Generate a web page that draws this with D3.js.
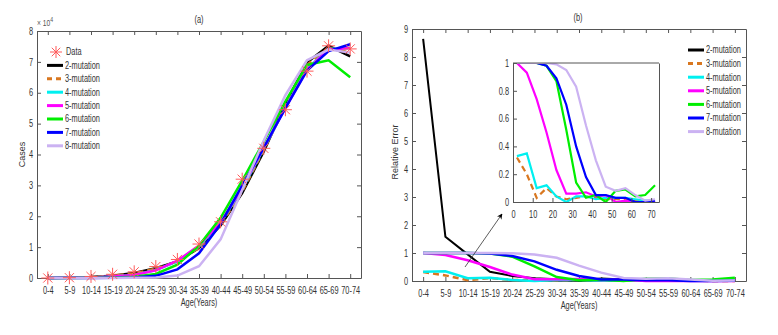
<!DOCTYPE html>
<html>
<head>
<meta charset="utf-8">
<script src="https://cdn.jsdelivr.net/npm/d3@7"></script>
<style>
  body { margin: 0; background: #fff; }
  svg { font-family: "Liberation Sans", Arial, sans-serif; }
  .tick text { font-size: 10px; fill: #333; }
  .lbl { font-size: 10px; fill: #333; }
</style>
</head>
<body>
<svg id="chart" width="778" height="335"></svg>
<script>
// age groups on the x axis
const ages = ['0-4','5-9','10-14','15-19','20-24','25-29','30-34','35-39','40-44','45-49','50-54','55-59','60-64','65-69','70-74'];
// age midpoints used by the inset
const ageMid = [2,7,12,17,22,27,32,37,42,47,52,57,62,67,72];

const seriesNames = ['2-mutation','3-mutation','4-mutation','5-mutation','6-mutation','7-mutation','8-mutation'];
const seriesColors = ['#000000','#d9771f','#00f0f0','#ff00ff','#00ee00','#0000ff','#cbb2f2'];

// (a) cases, x 10^4
const dataCases = [0, 0.01, 0.05, 0.12, 0.2, 0.37, 0.6, 1.1, 1.82, 3.2, 4.2, 5.45, 6.7, 7.52, 7.42];
const casesFit = [
  [0, 0.01, 0.03, 0.07, 0.16, 0.32, 0.54, 0.97, 1.7, 2.75, 4.1, 5.65, 6.98, 7.52, 7.18],
  [0, 0.01, 0.03, 0.07, 0.15, 0.3, 0.53, 0.98, 1.72, 2.8, 4.15, 5.6, 6.9, 7.45, 7.3],
  [0, 0.01, 0.02, 0.05, 0.1, 0.26, 0.54, 1.02, 1.78, 2.88, 4.2, 5.52, 6.78, 7.42, 7.45],
  [0, 0.01, 0.02, 0.05, 0.1, 0.25, 0.56, 1.05, 1.8, 2.92, 4.22, 5.5, 6.75, 7.4, 7.45],
  [0, 0, 0.01, 0.02, 0.04, 0.13, 0.43, 1.05, 1.95, 3.15, 4.42, 5.72, 6.9, 7.05, 6.5],
  [0, 0, 0, 0.01, 0.02, 0.07, 0.28, 0.8, 1.75, 3.0, 4.22, 5.5, 6.72, 7.35, 7.57],
  [0, 0, 0, 0, 0.01, 0.02, 0.08, 0.38, 1.25, 2.85, 4.45, 5.92, 7.05, 7.4, 7.3]
];

// (b) relative error
const relErr = [
  [8.65, 1.58, 0.95, 0.33, 0.18, 0.1, 0.06, 0.0, 0.09, 0.05, 0.03, 0.02, 0.01, 0.01, 0.0],
  [0.32, 0.2, 0.03, 0.1, 0.04, 0.02, 0.03, 0.04, 0.03, 0.02, 0.02, 0.02, 0.01, 0.0, 0.0],
  [0.33, 0.35, 0.1, 0.12, 0.04, 0.0, 0.04, 0.04, 0.02, 0.03, 0.03, 0.03, 0.02, 0.01, 0.01],
  [1.0, 0.93, 0.74, 0.5, 0.23, 0.06, 0.06, 0.07, 0.04, 0.05, 0.0, 0.01, 0.0, 0.0, 0.0],
  [1.0, 1.0, 1.0, 0.98, 0.87, 0.52, 0.14, 0.03, 0.05, 0.0, 0.08, 0.09, 0.04, 0.05, 0.12],
  [1.0, 1.0, 1.0, 0.98, 0.89, 0.7, 0.4, 0.18, 0.05, 0.05, 0.03, 0.03, 0.0, 0.0, 0.01],
  [1.0, 1.0, 1.0, 1.0, 0.99, 0.95, 0.83, 0.55, 0.3, 0.11, 0.08, 0.1, 0.05, 0.01, 0.02]
];

const yTicksA = [0,1,2,3,4,5,6,7,8];
const yTicksB = [0,1,2,3,4,5,6,7,8,9];
const insetXTicks = [0,10,20,30,40,50,60,70];
const insetYTicks = [0,0.2,0.4,0.6,0.8,1];

const svg = d3.select('#chart');
const axisColor = '#555';
const squeeze = 0.74; // the original font is a narrow one

// draws a boxed MATLAB-like frame with inward ticks on all sides
function frame(g, x, y, xTicks, yTicks, xFmt, yFmt, w, h, topTicks) {
  g.append('g')
    .attr('transform', 'translate(0,' + h + ')')
    .call(d3.axisBottom(x).tickValues(xTicks).tickSizeInner(-4).tickSizeOuter(0).tickPadding(9).tickFormat(xFmt));
  if (topTicks) {
    g.append('g')
      .call(d3.axisTop(x).tickValues(xTicks).tickSizeInner(-4).tickSizeOuter(0).tickFormat(''));
  } else {
    g.append('line').attr('x1', 0).attr('x2', w).attr('y1', 0).attr('y2', 0);
  }
  g.append('g')
    .call(d3.axisLeft(y).tickValues(yTicks).tickSizeInner(-4).tickSizeOuter(0).tickPadding(4).tickFormat(yFmt));
  g.append('g')
    .attr('transform', 'translate(' + w + ',0)')
    .call(d3.axisRight(y).tickValues(yTicks).tickSizeInner(topTicks ? -4 : 0).tickSizeOuter(0).tickFormat(''));
  g.selectAll('.domain, .tick line, line').attr('stroke', axisColor).attr('stroke-width', 1);
}

function star(g, cx, cy, r) {
  for (let a = 0; a < 4; a++) {
    const t = a * Math.PI / 4;
    g.append('line')
      .attr('x1', cx - r * Math.cos(t)).attr('y1', cy - r * Math.sin(t))
      .attr('x2', cx + r * Math.cos(t)).attr('y2', cy + r * Math.sin(t))
      .attr('stroke', '#ff5a5a').attr('stroke-width', 1);
  }
}

function legend(g, x0, y0, step, withData) {
  let row = 0;
  if (withData) {
    star(g, x0 + 9, y0, 6);
    g.append('text').attr('class', 'lbl').attr('x', x0 + 19).attr('y', y0 + 3.5).text('Data');
    row = 1;
  }
  seriesNames.forEach((n, i) => {
    const yy = y0 + (row + i) * step;
    g.append('line')
      .attr('x1', x0).attr('x2', x0 + 16).attr('y1', yy).attr('y2', yy)
      .attr('stroke', seriesColors[i]).attr('stroke-width', 3)
      .attr('stroke-dasharray', i === 1 ? '5,4' : null);
    g.append('text').attr('class', 'lbl').attr('x', x0 + 18).attr('y', yy + 3.5).text(n);
  });
}

// ---------- panel (a) ----------
const A = {left: 37, top: 31, w: 324, h: 247};
const ga = svg.append('g').attr('transform', `translate(${A.left},${A.top})`);
const xa = d3.scaleLinear().domain([0.5, 15.5]).range([0, A.w]);
const ya = d3.scaleLinear().domain([0, 8]).range([A.h, 0]);
const idx = d3.range(1, 16);

frame(ga, xa, ya, idx, yTicksA, (d) => ages[d - 1], d3.format('d'), A.w, A.h, true);

const lineA = d3.line().x((d, i) => xa(i + 1)).y(d => ya(d));
casesFit.forEach((s, i) => {
  ga.append('path').datum(s).attr('d', lineA)
    .attr('fill', 'none').attr('stroke', seriesColors[i]).attr('stroke-width', 2.5)
    .attr('stroke-dasharray', i === 1 ? '6,4' : null);
});
dataCases.forEach((v, i) => star(ga, xa(i + 1), ya(v), 6.5));

ga.append('text').attr('class', 'lbl').attr('x', A.w / 2).attr('y', -8).attr('text-anchor', 'middle').text('(a)');
ga.append('text').attr('class', 'lbl').attr('x', A.w / 2).attr('y', A.h + 28).attr('text-anchor', 'middle').text('Age(Years)');
ga.append('text').attr('class', 'lbl vert').attr('transform', `translate(-12,${A.h / 2}) rotate(-90)`)
  .attr('text-anchor', 'middle').text('Cases');
const exp = ga.append('text').attr('class', 'lbl').attr('x', 0).attr('y', -5).style('font-size', '9px').style('fill', '#555');
exp.append('tspan').text('\u00d7 10');
exp.append('tspan').attr('dy', -4).style('font-size', '7px').text('4');

legend(ga, 47 - A.left, 52 - A.top, 13.4, true);

// ---------- panel (b) ----------
const B = {left: 412, top: 29, w: 334, h: 252};
const gb = svg.append('g').attr('transform', `translate(${B.left},${B.top})`);
const xb = d3.scaleLinear().domain([0.5, 15.5]).range([0, B.w]);
const yb = d3.scaleLinear().domain([0, 9]).range([B.h, 0]);

frame(gb, xb, yb, idx, yTicksB, (d) => ages[d - 1], d3.format('d'), B.w, B.h, true);

const lineB = d3.line().x((d, i) => xb(i + 1)).y(d => yb(d));
relErr.forEach((s, i) => {
  gb.append('path').datum(s).attr('d', lineB)
    .attr('fill', 'none').attr('stroke', seriesColors[i]).attr('stroke-width', i === 0 ? 2 : 2.5)
    .attr('stroke-dasharray', i === 1 ? '6,4' : null);
});

gb.append('text').attr('class', 'lbl').attr('x', B.w / 2 - 1).attr('y', -8).attr('text-anchor', 'middle').text('(b)');
gb.append('text').attr('class', 'lbl').attr('x', B.w / 2).attr('y', B.h + 28).attr('text-anchor', 'middle').text('Age(Years)');
gb.append('text').attr('class', 'lbl vert').attr('transform', `translate(-14,${B.h / 2 - 3}) rotate(-90)`)
  .attr('text-anchor', 'middle').text('Relative Error');

legend(gb, 688 - B.left, 50 - B.top, 13.6, false);

// arrow pointing to the inset
svg.append('defs').append('marker')
  .attr('id', 'arrow').attr('viewBox', '0 0 10 10').attr('refX', 9).attr('refY', 5)
  .attr('markerWidth', 7).attr('markerHeight', 7).attr('orient', 'auto')
  .append('path').attr('d', 'M0,0 L10,5 L0,10 L3,5 z').attr('fill', '#000');
svg.append('line').attr('x1', 465).attr('y1', 267).attr('x2', 502).attr('y2', 214)
  .attr('stroke', '#333').attr('stroke-width', 0.8).attr('marker-end', 'url(#arrow)');

// ---------- inset ----------
const I = {left: 513, top: 63, w: 146, h: 139};
const gi = svg.append('g').attr('transform', `translate(${I.left},${I.top})`);
gi.append('rect').attr('width', I.w).attr('height', I.h).attr('fill', '#fff');
const xi = d3.scaleLinear().domain([0, 74]).range([0, I.w]);
const yi = d3.scaleLinear().domain([0, 1]).range([I.h, 0]);

gi.append('clipPath').attr('id', 'clipI').append('rect').attr('width', I.w).attr('height', I.h);
const lineI = d3.line().x((d, i) => xi(ageMid[i])).y(d => yi(d));
relErr.forEach((s, i) => {
  if (i === 0) return;
  gi.append('path').datum(s).attr('d', lineI).attr('clip-path', 'url(#clipI)')
    .attr('fill', 'none').attr('stroke', seriesColors[i]).attr('stroke-width', 2.2)
    .attr('stroke-dasharray', i === 1 ? '6,4' : null);
});
frame(gi, xi, yi, insetXTicks, insetYTicks, d3.format('d'), (d) => d === 0 || d === 1 ? d : d3.format('.1f')(d), I.w, I.h, false);

// squeeze every horizontal text horizontally around its own anchor
svg.selectAll('text').filter(function() { return !this.classList.contains('vert'); })
  .each(function() {
    const t = d3.select(this);
    const x = +(t.attr('x') || 0);
    t.attr('transform', `translate(${x * (1 - squeeze)},0) scale(${squeeze},1)`);
  });
svg.selectAll('text.vert').style('font-size', '9px');
</script>
</body>
</html>
